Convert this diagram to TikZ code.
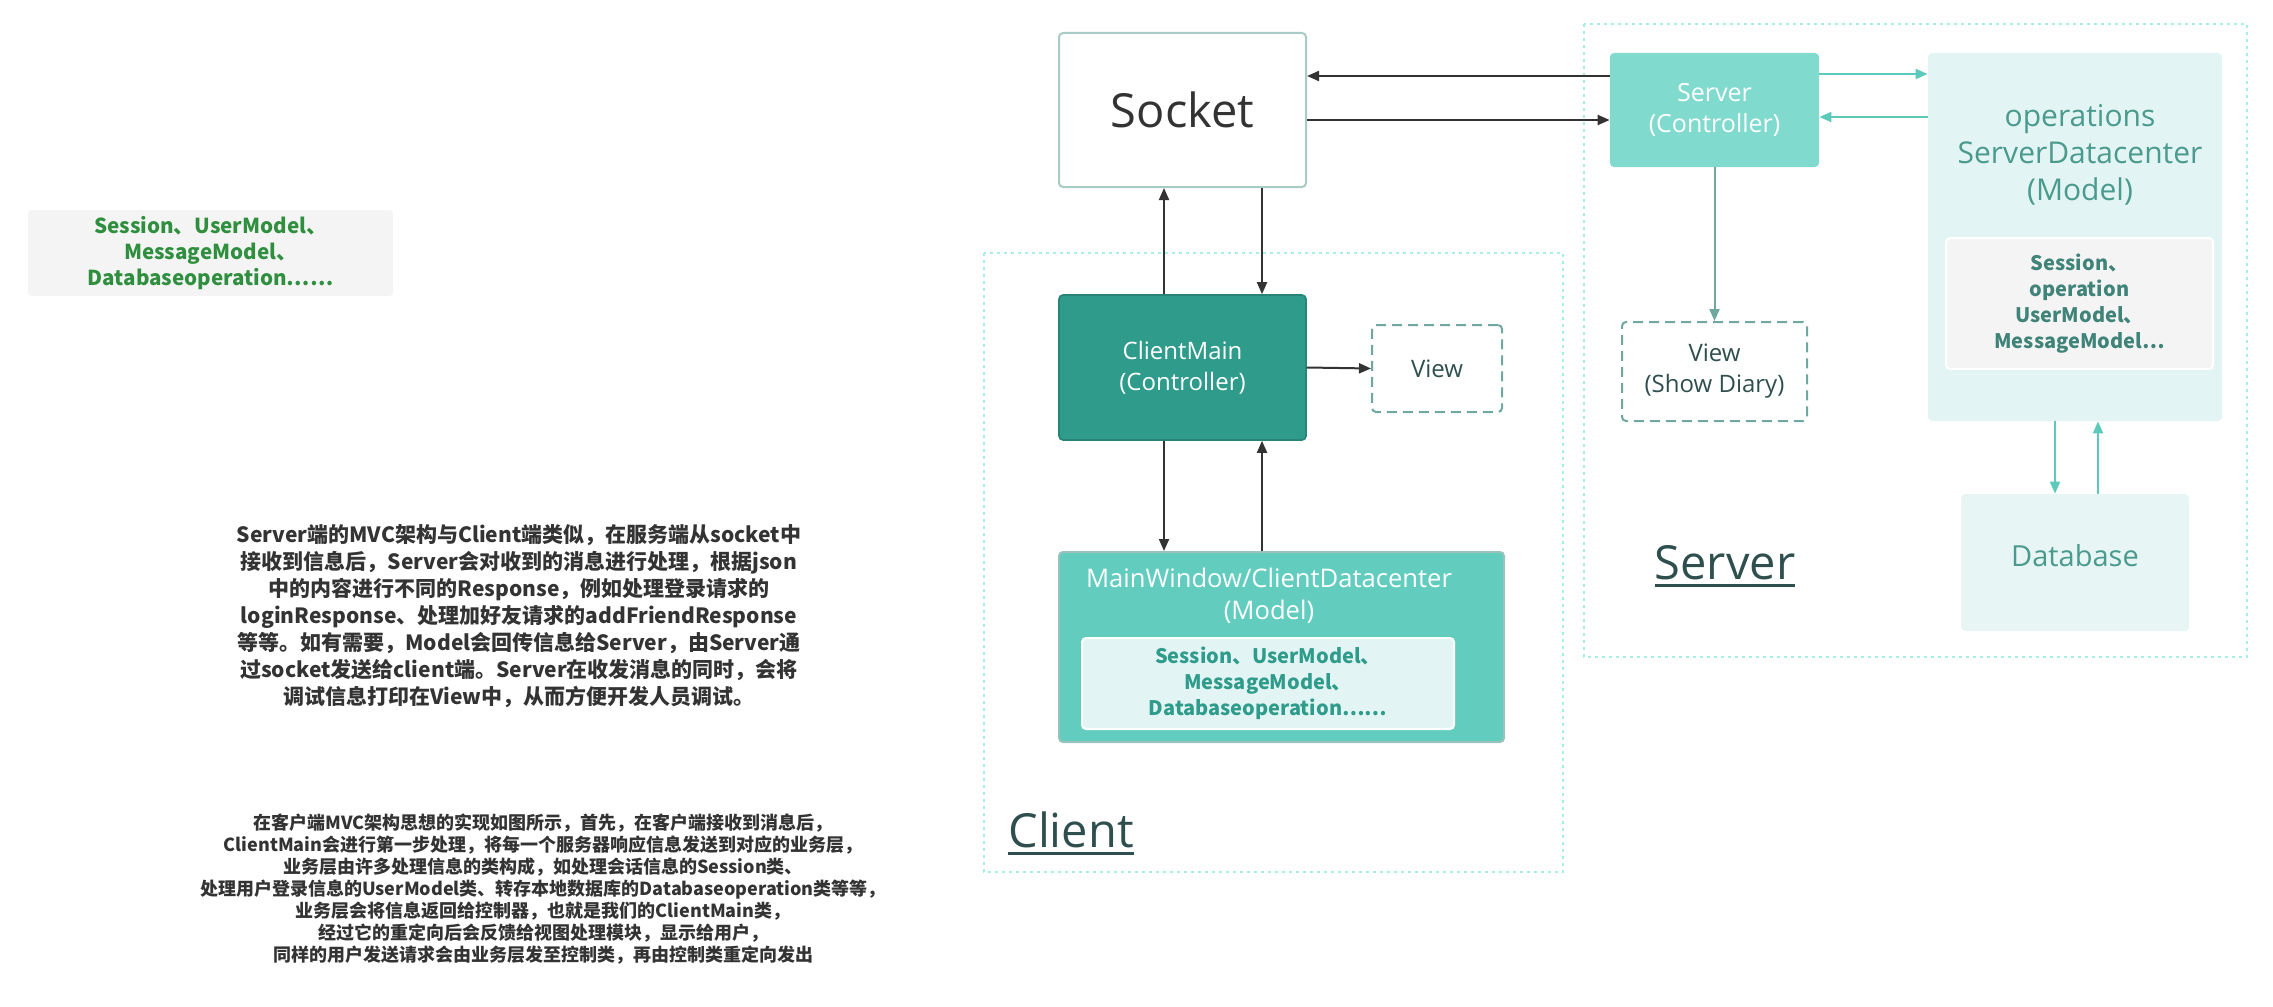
\documentclass[tikz,border=0pt]{standalone}
\usepackage{fontspec}
\setmainfont{Open Sans}
\newfontfamily\cjk{Noto Sans CJK SC}
\usetikzlibrary{arrows.meta}

\definecolor{tealdark}{HTML}{2E9B8B}
\definecolor{tealmid}{HTML}{62CDBF}
\definecolor{teallight}{HTML}{80DACE}
\definecolor{tealpale}{HTML}{E2F4F3}
\definecolor{tealdb}{HTML}{E7F5F4}
\definecolor{tealline}{HTML}{5CC9BB}
\definecolor{tealtext}{HTML}{4A9A8E}
\definecolor{tealgray}{HTML}{6FA8A0}
\definecolor{regioncol}{HTML}{A6EEE6}
\definecolor{darkline}{HTML}{333333}
\definecolor{slate}{HTML}{2F4F4F}
\definecolor{greytile}{HTML}{F4F4F4}
\definecolor{greentext}{HTML}{2F8F3F}
\definecolor{socketline}{HTML}{A9CBC5}

\newcommand{\heavyul}[1]{\setbox0\hbox{#1}\leavevmode\rlap{\raisebox{-4pt}{\rule{\wd0}{1.6pt}}}\box0}

\begin{document}
\begin{tikzpicture}
[x=0.5pt,y=-0.5pt,
 box/.style={shape=rectangle,rounded corners=2pt,inner sep=0pt,align=center,font=\fontsize{12}{15.5}\selectfont},
 viewbox/.style={box,draw=tealgray,line width=1pt,dash pattern=on 5pt off 3pt,fill=white,text=slate},
 tile/.style={box,draw=white,line width=1pt,font=\cjk\bfseries\fontsize{10}{13}\selectfont},
 region/.style={draw=regioncol,line width=1pt,dash pattern=on 1.5pt off 2pt},
 darr/.style={-{Triangle[length=6pt,width=5pt]},draw=darkline,line width=1pt},
 tarr/.style={-{Triangle[length=6pt,width=5pt]},draw=tealline,line width=1pt},
 gap/.style={-{Triangle[length=6pt,width=5pt]},draw=tealgray,line width=1pt},
 title/.style={font=\fontsize{23.5}{28}\selectfont,text=slate},
 para/.style={align=center,text=darkline}]
\useasboundingbox (0,0) rectangle (2273,1006);

\draw[region] (984,253) rectangle (1563,872);
\draw[region] (1584,24) rectangle (2247,657);

\node[tile,fill=greytile,text=greentext,font=\cjk\bfseries\fontsize{10.3}{13}\selectfont,
  minimum width=183.5pt,minimum height=44pt] (notes) at (210.5,253)
  {Session、UserModel、\\MessageModel、\\Databaseoperation……};

\node[para,font=\cjk\bfseries\fontsize{10.5}{13.5}\selectfont] (serverdesc) at (519,616)
  {Server端的MVC架构与Client端类似，在服务端从socket中\\
   接收到信息后，Server会对收到的消息进行处理，根据json\\
   中的内容进行不同的Response，例如处理登录请求的\\
   loginResponse、处理加好友请求的addFriendResponse\\
   等等。如有需要，Model会回传信息给Server，由Server通\\
   过socket发送给client端。Server在收发消息的同时，会将\\
   调试信息打印在View中，从而方便开发人员调试。};

\node[para,font=\cjk\bfseries\fontsize{9}{11}\selectfont] (clientdesc) at (543,889)
  {在客户端MVC架构思想的实现如图所示，首先，在客户端接收到消息后，\\
   ClientMain会进行第一步处理，将每一个服务器响应信息发送到对应的业务层，\\
   业务层由许多处理信息的类构成，如处理会话信息的Session类、\\
   处理用户登录信息的UserModel类、转存本地数据库的Databaseoperation类等等，\\
   业务层会将信息返回给控制器，也就是我们的ClientMain类，\\
   经过它的重定向后会反馈给视图处理模块，显示给用户，\\
   同样的用户发送请求会由业务层发至控制类，再由控制类重定向发出};

\node[box,draw=socketline,line width=1pt,fill=white,text=darkline,font=\fontsize{23.5}{28}\selectfont,
  minimum width=123.5pt,minimum height=77pt] (socket) at (1182.5,110) {Socket};
\node[box,draw=tealdark!85!black,line width=0.8pt,fill=tealdark,text=white,
  minimum width=123.5pt,minimum height=72.5pt] (clientmain) at (1182.5,367.5) {ClientMain\\(Controller)};
\node[viewbox,minimum width=65pt,minimum height=43.5pt] (cview) at (1437,368.5) {View};
\node[box,draw=tealgray!70,line width=1pt,fill=tealmid,minimum width=222.5pt,minimum height=95pt] (mainwin) at (1281.5,647) {};
\node[text=white,align=center,font=\fontsize{12.8}{16}\selectfont] (mwtitle) at (1269,596)
  {MainWindow/ClientDatacenter\\(Model)};
\node[tile,fill=tealpale,text=tealdark,minimum width=186pt,minimum height=45.5pt] (mwinner) at (1268,683.5)
  {Session、UserModel、\\MessageModel、\\Databaseoperation……};
\node[title,anchor=base] (clientlbl) at (1071,847) {\heavyul{Client}};

\node[box,fill=teallight,text=white,font=\fontsize{12.5}{15.5}\selectfont,
  minimum width=104.5pt,minimum height=57pt] (srvctrl) at (1714.5,110) {Server\\(Controller)};
\node[viewbox,minimum width=92.5pt,minimum height=49.5pt] (sview) at (1714.5,371.5) {View\\(Show Diary)};
\node[box,fill=tealpale,minimum width=147pt,minimum height=184pt] (sdc) at (2075,237) {};
\node[text=tealtext,align=center,font=\fontsize{15}{18.5}\selectfont] (sdctitle) at (2080,155)
  {operations\\ServerDatacenter\\(Model)};
\node[tile,fill=greytile,text=tealtext!85!black,minimum width=133.5pt,minimum height=65.5pt] (sdcinner) at (2079.5,303.5)
  {Session、\\operation\\UserModel、\\MessageModel…};
\node[box,fill=tealdb,text=tealtext,font=\fontsize{14.5}{17}\selectfont,text depth=7pt,
  minimum width=114pt,minimum height=68.5pt] (database) at (2075,562.5) {Database};
\node[title,anchor=base] (serverlbl) at (1725,579) {\heavyul{Server}};

\draw[darr] ([yshift=17pt]srvctrl.west) -- ([yshift=17pt]socket.east);
\draw[darr] ([yshift=-5pt]socket.east) -- ([yshift=-5pt]srvctrl.west);
\draw[darr] ([xshift=-9.25pt]clientmain.north) -- ([xshift=-9.25pt]socket.south);
\draw[darr] ([xshift=39.75pt]socket.south) -- ([xshift=39.75pt]clientmain.north);
\draw[darr] (clientmain.east) -- (cview.west);
\draw[darr] ([xshift=-9.25pt]clientmain.south) -- ([xshift=-9.25pt]clientmain.south |- mainwin.north);
\draw[darr] ([xshift=39.75pt]clientmain.south |- mainwin.north) -- ([xshift=39.75pt]clientmain.south);
\draw[tarr] ([yshift=18pt]srvctrl.east) -- ([yshift=18pt]srvctrl.east -| sdc.west);
\draw[tarr] ([yshift=-3.5pt]srvctrl.east -| sdc.west) -- ([yshift=-3.5pt]srvctrl.east);
\draw[gap] (srvctrl.south) -- (sview.north);
\draw[tarr] ([xshift=-10pt]sdc.south) -- ([xshift=-10pt]database.north);
\draw[tarr] ([xshift=11.5pt]database.north) -- ([xshift=11.5pt]sdc.south);
\end{tikzpicture}
\end{document}
